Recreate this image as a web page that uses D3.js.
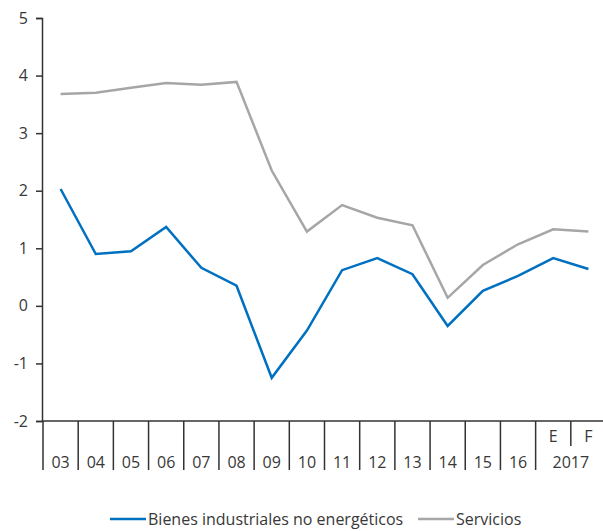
<!DOCTYPE html>
<html>
<head>
<meta charset="utf-8">
<script src="https://cdn.jsdelivr.net/npm/d3@7"></script>
<style>
  body { margin: 0; background: #fff; }
  text { font-family: "Open Sans", sans-serif; fill: #383838; }
</style>
</head>
<body>
<div id="chart"></div>
<script>
// data
var categories = ["03","04","05","06","07","08","09","10","11","12","13","14","15","16","E","F"];
var bienes = [2.03,0.90,0.95,1.37,0.66,0.35,-1.25,-0.43,0.62,0.83,0.55,-0.35,0.26,0.52,0.83,0.64];
var servicios = [3.68,3.70,3.79,3.87,3.84,3.89,2.35,1.29,1.75,1.53,1.40,0.14,0.71,1.07,1.33,1.29];
var yTicks = [-2,-1,0,1,2,3,4,5];

var W = 603, H = 531;
var plotLeft = 42, plotRight = 606, plotTop = 18, plotBottom = 421;

var svg = d3.select("#chart").append("svg")
    .attr("width", W)
    .attr("height", H);

var x = d3.scaleBand().domain(categories).range([plotLeft + 1, plotRight]).padding(0);
var y = d3.scaleLinear().domain([-2, 5]).range([plotBottom, plotTop]);

// y axis
var yAxis = svg.append("g")
    .attr("transform", "translate(" + plotLeft + ",0)")
    .call(d3.axisLeft(y).tickValues(yTicks).tickSize(6).tickPadding(8).tickSizeOuter(6));
yAxis.select(".domain").attr("stroke", "#333").attr("stroke-width", 1.5);
yAxis.selectAll(".tick line").attr("stroke", "#333").attr("stroke-width", 1.5);
yAxis.selectAll(".tick text")
    .style("font-size", "16px")
    .style("font-family", "Open Sans, sans-serif")
    .attr("fill", "#383838")
    .text(function(d) { return d < 0 ? "-" + Math.abs(d) : d; });

// x axis line
svg.append("line")
    .attr("x1", plotLeft).attr("x2", W)
    .attr("y1", y(-2)).attr("y2", y(-2))
    .attr("stroke", "#333").attr("stroke-width", 1.5);

// category separators
var yearCats = categories.slice(0, 14);
categories.forEach(function(c) {
    var xs = x(c);
    var y2 = plotBottom + 49;
    if (c == "F") y2 = plotBottom + 25;
    svg.append("line")
        .attr("x1", xs).attr("x2", xs)
        .attr("y1", plotBottom).attr("y2", y2)
        .attr("stroke", "#333").attr("stroke-width", 1.5);
});

// year labels
yearCats.forEach(function(c) {
    svg.append("text")
        .attr("x", x(c) + x.bandwidth() / 2)
        .attr("y", plotBottom + 47)
        .attr("text-anchor", "middle")
        .style("font-size", "16px")
        .text(c);
});
// E / F
["E","F"].forEach(function(c) {
    svg.append("text")
        .attr("x", x(c) + x.bandwidth() / 2)
        .attr("y", plotBottom + 21)
        .attr("text-anchor", "middle")
        .style("font-size", "16px")
        .text(c);
});
svg.append("text")
    .attr("x", x("E") + x.bandwidth())
    .attr("y", plotBottom + 47)
    .attr("text-anchor", "middle")
    .style("font-size", "16px")
    .text("2017");

// lines
var line = d3.line()
    .x(function(d, i) { return x(categories[i]) + x.bandwidth() / 2; })
    .y(function(d) { return y(d); });

svg.append("path")
    .datum(servicios)
    .attr("fill", "none")
    .attr("stroke", "#A6A6A6")
    .attr("stroke-width", 2.5)
    .attr("d", line);

svg.append("path")
    .datum(bienes)
    .attr("fill", "none")
    .attr("stroke", "#0070C0")
    .attr("stroke-width", 2.5)
    .attr("d", line);

// legend
var legend = [
    {name: "Bienes industriales no energéticos", color: "#0070C0", x: 110},
    {name: "Servicios", color: "#A6A6A6", x: 418}
];
legend.forEach(function(l) {
    svg.append("line")
        .attr("x1", l.x).attr("x2", l.x + 36)
        .attr("y1", 519).attr("y2", 519)
        .attr("stroke", l.color).attr("stroke-width", 2.5);
    svg.append("text")
        .attr("x", l.x + 38)
        .attr("y", 525)
        .style("font-size", "16px")
        .text(l.name);
});
</script>
</body>
</html>
